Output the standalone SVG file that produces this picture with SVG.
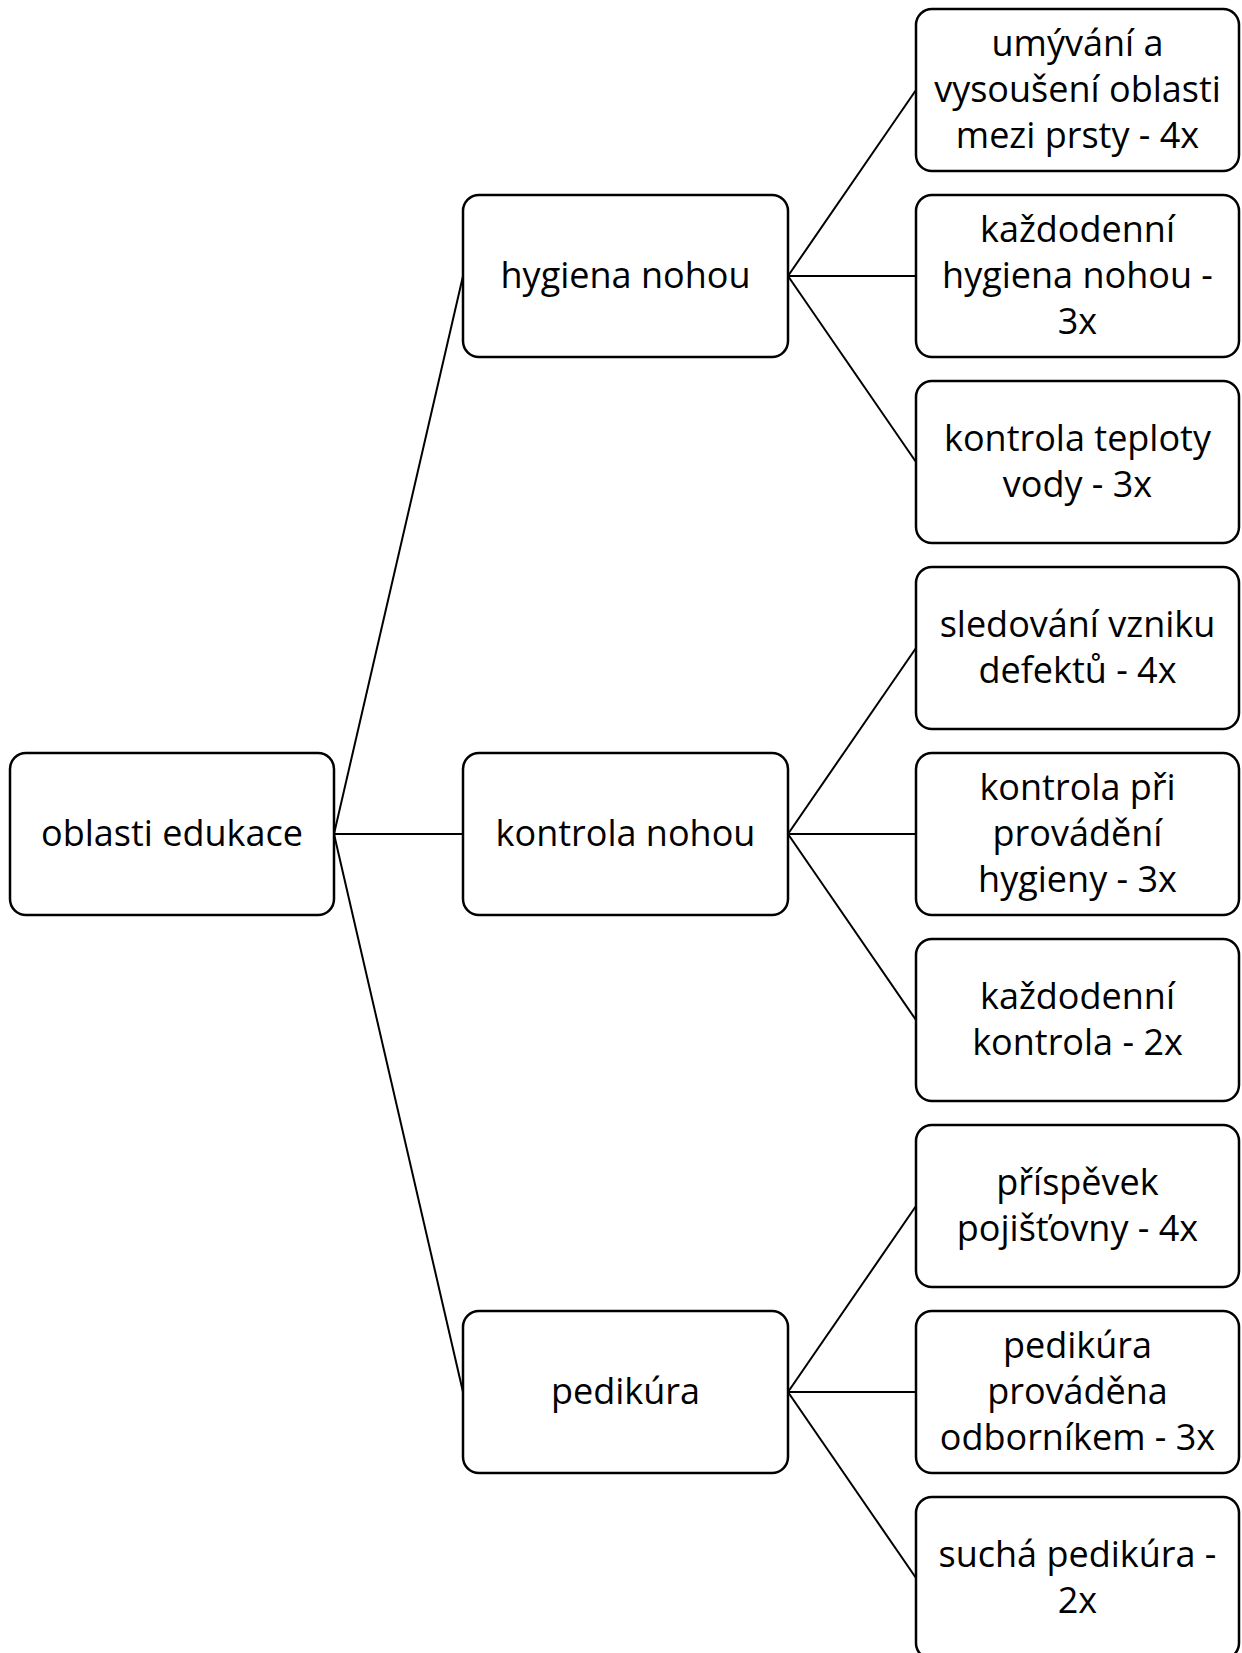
<svg xmlns="http://www.w3.org/2000/svg" width="1242" height="1653" viewBox="0 0 1242 1653">
<style>
.box{fill:#fff;stroke:#000;stroke-width:2.5}
.c{stroke:#000;stroke-width:2;fill:none}
text{font-family:"Open Sans","Noto Sans",sans-serif;font-size:36px;fill:#000;text-anchor:middle}
</style>
<rect width="1242" height="1653" fill="#fff"/>
<g id="connectors">
<line class="c" x1="334" y1="834" x2="463" y2="276"/>
<line class="c" x1="334" y1="834" x2="463" y2="834"/>
<line class="c" x1="334" y1="834" x2="463" y2="1392"/>
<line class="c" x1="788" y1="276" x2="916" y2="90"/>
<line class="c" x1="788" y1="276" x2="916" y2="276"/>
<line class="c" x1="788" y1="276" x2="916" y2="462"/>
<line class="c" x1="788" y1="834" x2="916" y2="648"/>
<line class="c" x1="788" y1="834" x2="916" y2="834"/>
<line class="c" x1="788" y1="834" x2="916" y2="1020"/>
<line class="c" x1="788" y1="1392" x2="916" y2="1206"/>
<line class="c" x1="788" y1="1392" x2="916" y2="1392"/>
<line class="c" x1="788" y1="1392" x2="916" y2="1578"/>
</g>
<g id="root"><rect class="box" x="10" y="753" width="324" height="162" rx="16"/><text x="172" y="846">oblasti edukace</text></g>
<g id="hygiena"><rect class="box" x="463" y="195" width="325" height="162" rx="16"/><text x="625.5" y="288">hygiena nohou</text></g>
<g id="kontrola"><rect class="box" x="463" y="753" width="325" height="162" rx="16"/><text x="625.5" y="846">kontrola nohou</text></g>
<g id="pedikura"><rect class="box" x="463" y="1311" width="325" height="162" rx="16"/><text x="625.5" y="1404">pedikúra</text></g>
<g id="leaf1"><rect class="box" x="916" y="9" width="323" height="162" rx="16"/><text x="1077.5" y="56">umývání a</text><text x="1077.5" y="102">vysoušení oblasti</text><text x="1077.5" y="148">mezi prsty - 4x</text></g>
<g id="leaf2"><rect class="box" x="916" y="195" width="323" height="162" rx="16"/><text x="1077.5" y="242">každodenní</text><text x="1077.5" y="288">hygiena nohou -</text><text x="1077.5" y="334">3x</text></g>
<g id="leaf3"><rect class="box" x="916" y="381" width="323" height="162" rx="16"/><text x="1077.5" y="451">kontrola teploty</text><text x="1077.5" y="497">vody - 3x</text></g>
<g id="leaf4"><rect class="box" x="916" y="567" width="323" height="162" rx="16"/><text x="1077.5" y="637">sledování vzniku</text><text x="1077.5" y="683">defektů - 4x</text></g>
<g id="leaf5"><rect class="box" x="916" y="753" width="323" height="162" rx="16"/><text x="1077.5" y="800">kontrola při</text><text x="1077.5" y="846">provádění</text><text x="1077.5" y="892">hygieny - 3x</text></g>
<g id="leaf6"><rect class="box" x="916" y="939" width="323" height="162" rx="16"/><text x="1077.5" y="1009">každodenní</text><text x="1077.5" y="1055">kontrola - 2x</text></g>
<g id="leaf7"><rect class="box" x="916" y="1125" width="323" height="162" rx="16"/><text x="1077.5" y="1195">příspěvek</text><text x="1077.5" y="1241">pojišťovny - 4x</text></g>
<g id="leaf8"><rect class="box" x="916" y="1311" width="323" height="162" rx="16"/><text x="1077.5" y="1358">pedikúra</text><text x="1077.5" y="1404">prováděna</text><text x="1077.5" y="1450">odborníkem - 3x</text></g>
<g id="leaf9"><rect class="box" x="916" y="1497" width="323" height="162" rx="16"/><text x="1077.5" y="1567">suchá pedikúra -</text><text x="1077.5" y="1613">2x</text></g>
</svg>
